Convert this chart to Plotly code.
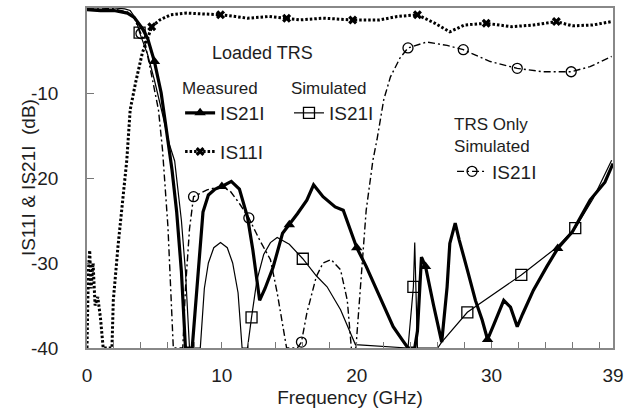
import plotly.graph_objects as go

# ---------------- data ----------------
# Measured |S21| (Loaded TRS)
meas_s21_f = [0, 1, 2, 3, 3.5, 4.1, 4.5, 5.0, 5.5, 5.9, 6.3, 6.65, 7.0, 7.3, 7.8, 8.0, 8.2, 8.4, 8.6,
              9.0, 9.5, 10.0, 10.7, 11.3, 11.9, 12.3, 12.6, 12.8, 13.2, 13.8, 14.5, 15.0, 15.6, 16.3,
              16.8, 17.5, 18.4, 19.0, 19.7, 20.0, 20.7, 21.5, 21.9, 22.7, 23.4, 23.8, 24.3, 24.5,
              24.8, 25.1, 25.7, 26.3, 26.7, 26.9, 27.3, 27.6, 28.2, 28.8, 29.3, 29.7, 30.2, 30.9,
              31.4, 31.9, 32.3, 33.1, 34.1, 34.9, 36.0, 37.3, 38.4, 39.0]
meas_s21_db = [-0.2, -0.3, -0.3, -0.6, -1.1, -2.4, -3.6, -6.3, -10.0, -14.5, -19.0, -24.0, -31.0, -40.0,
               -40.0, -36.0, -32.0, -28.5, -24.0, -22.0, -21.3, -21.0, -20.4, -21.3, -24.6, -28.5,
               -32.0, -34.4, -33.0, -30.5, -26.5, -25.5, -24.2, -22.6, -20.8, -22.2, -23.4, -23.8,
               -26.9, -28.2, -30.4, -33.2, -34.7, -37.5, -39.1, -40.0, -40.0, -38.0, -29.3, -30.4,
               -35.0, -39.3, -32.8, -27.7, -25.3, -27.3, -30.8, -34.4, -36.7, -39.0, -37.1, -34.4,
               -35.2, -37.5, -36.0, -33.2, -30.4, -28.3, -26.3, -22.6, -20.5, -18.3]
meas_s21_marks = [5.0, 10.0, 15.0, 20.0, 25.1, 29.7, 34.9]

# Measured |S11| (Loaded TRS)
meas_s11_f = [0, 0.1, 0.2, 0.3, 0.45, 0.6, 0.8, 1.0, 1.2, 1.5, 1.85, 1.95, 2.3, 2.7, 2.95, 3.2, 3.6,
              4.1, 4.5, 4.8, 5.4, 6.2, 7.4, 8.5, 9.9, 11.0, 11.9, 13.5, 14.8, 15.8, 17.5, 19.7, 21.7,
              23.0, 24.5, 25.8, 26.9, 28.0, 29.6, 31.5, 33.1, 34.8, 36.0, 37.5, 38.9]
meas_s11_db = [-40.0, -31.0, -28.5, -33.0, -30.0, -35.0, -34.0, -36.5, -40.0, -40.0, -40.0, -34.4,
               -28.0, -21.8, -17.9, -12.0, -8.8, -5.3, -3.4, -2.2, -1.4, -0.8, -0.6, -0.7, -0.8,
               -1.0, -1.2, -1.0, -1.2, -1.4, -1.2, -1.4, -1.4, -1.0, -0.8, -1.8, -2.8, -2.0, -1.8,
               -2.2, -2.0, -1.6, -2.1, -2.0, -1.6]
meas_s11_marks = [4.8, 9.9, 14.8, 19.7, 24.5, 29.6, 34.8]

# Simulated |S21| (Loaded TRS)
sim_s21_f = [0, 1, 2, 2.8, 3.2, 3.6, 3.9, 4.5, 5.0, 5.6, 6.1, 6.5, 7.0, 7.3, 7.6, 8.4, 8.7, 9.0, 9.4,
             9.9, 10.4, 10.8, 11.2, 11.5, 11.9, 12.2, 12.6, 13.1, 13.6, 14.1, 15.0, 16.0, 17.0, 17.8,
             18.8, 19.9, 23.8, 24.2, 24.3, 24.5, 26.0, 26.3, 28.2, 32.2, 34.8, 36.2, 37.5, 38.9]
sim_s21_db = [0.0, 0.0, 0.0, -0.1, -0.3, -1.2, -2.9, -5.5, -8.5, -12.5, -16.0, -18.0, -25.0, -31.0,
              -40.0, -40.0, -33.0, -30.0, -28.2, -27.6, -28.2, -30.0, -33.5, -40.0, -40.0, -36.4,
              -32.0, -29.0, -27.6, -27.0, -27.8, -29.5, -31.5, -32.8, -35.5, -39.6, -40.0, -32.8,
              -27.6, -40.0, -40.0, -39.3, -35.8, -31.4, -28.2, -25.9, -22.5, -17.9]
sim_s21_marks = [3.9, 12.2, 16.0, 24.2, 28.2, 32.2, 36.2]

# TRS only, simulated |S21|
trs_s21_f = [0, 1, 2, 3, 3.5, 4.0, 4.3, 4.8, 5.3, 5.6, 6.0, 6.4, 7.1, 7.3, 7.6, 7.9, 8.9, 9.9, 10.6,
             11.3, 12.0, 12.8, 13.6, 14.1, 14.8, 15.6, 15.9, 16.3, 17.0, 17.5, 18.1, 18.8, 19.3,
             19.6, 19.95, 20.0, 20.4, 20.7, 21.2, 21.5, 22.0, 22.5, 23.2, 23.8, 25.2, 26.7, 27.9,
             29.9, 31.9, 33.8, 35.9, 37.3, 38.9]
trs_s21_db = [0.0, 0.0, -0.1, -0.5, -1.2, -3.0, -4.1, -8.0, -12.0, -16.7, -25.7, -40.0, -40.0, -33.0,
              -26.0, -22.2, -21.4, -21.0, -21.5, -23.0, -24.7, -27.3, -29.6, -33.5, -40.0, -40.0,
              -39.3, -35.9, -31.6, -30.0, -29.6, -30.8, -34.4, -40.0, -40.0, -38.7, -29.6, -23.8,
              -17.9, -15.5, -10.8, -8.1, -5.9, -4.7, -4.0, -4.4, -4.9, -6.3, -7.1, -7.5, -7.5,
              -6.9, -5.7]
trs_s21_marks = [4.0, 7.9, 12.0, 15.9, 23.8, 27.9, 31.9, 35.9]

x_tick_vals = [0, 10, 20, 30, 39]
y_tick_vals = [0, -10, -20, -30, -40]

# ---------------- styling ----------------
FONT = "Liberation Sans, Arial, sans-serif"
INK = "#1e1e1e"


def pick(fs, vs, marks):
    xs, ys = [], []
    for m in marks:
        i = fs.index(m)
        xs.append(fs[i])
        ys.append(vs[i])
    return xs, ys


fig = go.Figure()

series = [
    dict(f=meas_s21_f, v=meas_s21_db, marks=meas_s21_marks, name="IS21I", legend="legend",
         line=dict(color="black", width=3.2),
         marker=dict(symbol="triangle-up", size=10, color="black")),
    dict(f=meas_s11_f, v=meas_s11_db, marks=meas_s11_marks, name="IS11I", legend="legend",
         line=dict(color="black", width=3, dash="2.5px,2px"),
         marker=dict(symbol="x", size=8, color="black")),
    dict(f=sim_s21_f, v=sim_s21_db, marks=sim_s21_marks, name="IS21I", legend="legend2",
         line=dict(color="black", width=1.2),
         marker=dict(symbol="square-open", size=11, color="black", line=dict(width=1.3))),
    dict(f=trs_s21_f, v=trs_s21_db, marks=trs_s21_marks, name="IS21I", legend="legend3",
         line=dict(color="black", width=1.4, dash="7px,3px,2px,3px"),
         marker=dict(symbol="circle-open", size=10, color="black", line=dict(width=1.3))),
]

for k, s in enumerate(series):
    fig.add_trace(go.Scatter(x=s["f"], y=s["v"], mode="lines", line=s["line"],
                             showlegend=False, hoverinfo="skip"))
    mx, my = pick(s["f"], s["v"], s["marks"])
    fig.add_trace(go.Scatter(x=mx, y=my, mode="markers", marker=s["marker"],
                             showlegend=False, cliponaxis=True))
    # legend entry (no data points)
    fig.add_trace(go.Scatter(x=[None], y=[None], mode="lines+markers", name=s["name"],
                             line=s["line"], marker=s["marker"], legend=s["legend"],
                             legendgroup="g%d" % k))

fig.update_layout(
    width=625, height=419,
    margin=dict(l=87, r=12, t=8, b=71, autoexpand=False),
    paper_bgcolor="white", plot_bgcolor="white",
    font=dict(family=FONT, color=INK, size=19),
    xaxis=dict(range=[0, 39], tickvals=x_tick_vals, ticktext=[str(v) for v in x_tick_vals],
               automargin=False,
               ticks="inside", ticklen=6, tickcolor="#777", showgrid=False, zeroline=False,
               showline=True, mirror=True, linecolor="#888", linewidth=1.5,
               tickfont=dict(size=19), ticklabelstandoff=9,
               minor=dict(dtick=2, tick0=0, ticks="inside", ticklen=6, tickcolor="#777"),
               title=dict(text="Frequency (GHz)", font=dict(size=19), standoff=6)),
    yaxis=dict(range=[-40, 0], tickvals=y_tick_vals, ticktext=[str(v) for v in y_tick_vals],
               automargin=False,
               ticks="inside", ticklen=7, tickcolor="#777", showgrid=False, zeroline=False,
               showline=True, mirror=True, linecolor="#888", linewidth=1.5,
               tickfont=dict(size=19), ticklabelstandoff=23),
    legend=dict(x=0.177, y=0.812, xanchor="left", yanchor="top", bgcolor="rgba(0,0,0,0)",
                font=dict(size=19), title=dict(text="Measured", font=dict(size=17)),
                tracegroupgap=11, itemwidth=30),
    legend2=dict(x=0.384, y=0.812, xanchor="left", yanchor="top", bgcolor="rgba(0,0,0,0)",
                 font=dict(size=19), title=dict(text="Simulated", font=dict(size=17)),
                 itemwidth=30),
    legend3=dict(x=0.694, y=0.705, xanchor="left", yanchor="top", bgcolor="rgba(0,0,0,0)",
                 font=dict(size=19), title=dict(text="TRS Only<br>Simulated", font=dict(size=17)),
                 itemwidth=30),
    annotations=[
        dict(text="Loaded TRS", xref="paper", yref="paper", x=0.333, y=0.868,
             xanchor="center", yanchor="middle", showarrow=False,
             font=dict(size=18, color=INK)),
        dict(text="IS11I &amp; IS21I  (dB)", xref="paper", yref="paper", x=-0.112, y=0.5,
             xanchor="center", yanchor="middle", textangle=-90, showarrow=False,
             font=dict(size=19, color=INK)),
    ],
)

fig.write_html("out.html", config={"displayModeBar": False},
               post_script="document.body.style.margin='0';")
